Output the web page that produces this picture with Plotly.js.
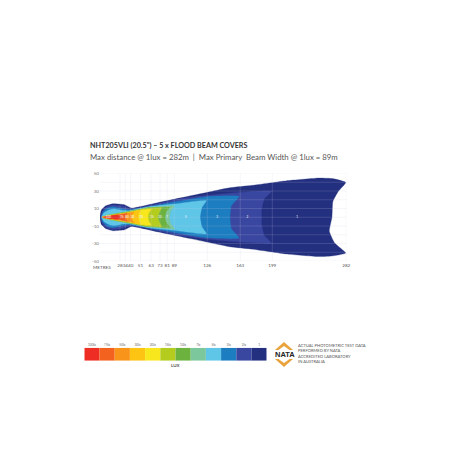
<!DOCTYPE html>
<html><head><meta charset="utf-8">
<script src="https://cdn.plot.ly/plotly-3.0.1.min.js"></script>
<style>html,body{margin:0;padding:0;background:#fff}#c{width:452px;height:452px}</style>
</head><body><div id="c"></div>
<script>
// Isolux contours: metres along the beam, spread on the vertical axis
const lux1X   = [5.6,7,12,20,33,41,70,110,151,177,215,252,268,281.5,273,267,266,263,269,281.5,268,252,215,177,151,110,70,41,33,20,12,7,5.6];
const lux1Y   = [0,8,13,15.4,14.3,10.5,16.6,25,33.7,36.5,41.7,44.8,44,39.8,29.5,18,0,-16,-29.5,-41,-44,-45,-42,-36.5,-33.7,-25,-16.6,-10.5,-14.3,-15.4,-13,-8,0];
const lux2X   = [6.5,8,13,20,32,40,70,95,125,151,198,190,187,187,187,190,198,151,125,95,70,40,32,20,13,8,6.5];
const lux2Y   = [0,7,12,14,12.5,9.5,15.5,21,25,27.5,29.5,21,8,0,-8,-21,-29.5,-27.5,-25,-21,-15.5,-9.5,-12.5,-14,-12,-7,0];
const lux3X   = [7,9,14,20,30,39,70,95,125,161.6,153,151.5,153,161.6,125,95,70,39,30,20,14,9,7];
const lux3Y   = [0,6,10.5,12,10,8.5,14,18.5,23.5,23.8,13,0,-13,-23.8,-23.5,-18.5,-14,-8.5,-10,-12,-10.5,-6,0];
const lux5X   = [7.5,10,16,22,30,38,60,88,125,120,118,120,125,88,60,38,30,22,16,10,7.5];
const lux5Y   = [0,5,8.5,9.5,8,7.5,12,15,19,11,0,-11,-19,-15,-12,-7.5,-8,-9.5,-8.5,-5,0];
const lux7X   = [8,14,24,38,58,75,89,85,83.5,85,89,75,58,38,24,14,8];
const lux7Y   = [0,3,4.5,7,11,12.5,13,7,0,-7,-13.5,-12.5,-11,-7,-4.5,-3,0];
const lux10X  = [8,24,38,58,72,84,80,78.6,80,84,72,58,38,24,8];
const lux10Y  = [0,4,6.5,10.7,11.3,11.6,6,0,-6,-11.6,-11.3,-10.7,-6.5,-4,0];
const lux15X  = [8,24,38,58,70,75,72,71,72,75,70,58,38,24,8];
const lux15Y  = [0,3.6,6,10.3,10.8,11,5,0,-5,-11,-10.8,-10.3,-6,-3.6,0];
const lux20X  = [8,24,38,52,63,60,59.6,60,63,52,38,24,8];
const lux20Y  = [0,3.2,5.5,8.5,9,4,0,-4,-9,-8.5,-5.5,-3.2,0];
const lux30X  = [8,24,36,46,51,49,48.7,49,51,46,36,24,8];
const lux30Y  = [0,2.8,4.8,7,8,4,0,-4,-8,-7,-4.8,-2.8,0];
const lux50X  = [8,20,32,40,44,41.5,41,41.5,44,40,32,20,8];
const lux50Y  = [0,2.2,4,5.5,6,3,0,-3,-6,-5.5,-4,-2.2,0];
const lux75X  = [8,18,26,33,36,33.6,36,33,26,18,8];
const lux75Y  = [0,1.8,3,4,5,0,-5,-4,-3,-1.8,0];
const lux100X = [10,18,24,29,24,18,10];
const lux100Y = [0,1.5,2.2,0,-2.2,-1.5,0];

const zoneColors = ["#232f7f","#3a47a0","#1c7dc0","#5fc6e8","#7cc79b","#6cb23e","#b4cc1e","#f8e71c","#fdc413","#f9941b","#f15a24","#ea2a22"];
const zones = [[lux1X,lux1Y],[lux2X,lux2Y],[lux3X,lux3Y],[lux5X,lux5Y],[lux7X,lux7Y],[lux10X,lux10Y],[lux15X,lux15Y],[lux20X,lux20Y],[lux30X,lux30Y],[lux50X,lux50Y],[lux75X,lux75Y],[lux100X,lux100Y]];

const distanceTicks = [28,34,40,51,63,73,81,89,126,163,199,282];
const spreadTicks = [50,40,30,20,10,0,-10,-20,-30,-40,-50];
const spreadLabels = ["50","","30","","10","","-10","","-30","","-50"];

const zoneLabelX = [15,30,36,42,52,64,73,81,102,137,171,227];
const zoneLabelY = [0,0,0,0,0,0,0,0,0,0,0,0];
const zoneLabels = ["100","75","50","30","20","15","10","7","5","3","2","1"];

const scaleLabels = ["100lx","75lx","50lx","30lx","20lx","15lx","10lx","7lx","5lx","3lx","2lx","1"];
const scaleColors = ["#ee2e24","#f4621f","#f9941b","#fdc413","#f8e71c","#b4cc1e","#6cb23e","#7cc79b","#5fc6e8","#1c7dc0","#3a47a0","#232f7f"];
const scaleHeight = [1,1,1,1,1,1,1,1,1,1,1,1];

const font = "Lato, 'Open Sans', sans-serif";

const traces = zones.map((z,i)=>({x:z[0],y:z[1],mode:"lines",fill:"toself",fillcolor:zoneColors[i],
  line:{color:zoneColors[i],width:0.3,shape:"spline",smoothing:0.4},hoverinfo:"skip",xaxis:"x",yaxis:"y"}));
traces.push({x:zoneLabelX,y:zoneLabelY,text:zoneLabels,mode:"text",textfont:{size:3,color:"#fff"},xaxis:"x",yaxis:"y",hoverinfo:"skip"});
traces.push({x:scaleLabels,y:scaleHeight,type:"bar",marker:{color:scaleColors,line:{width:0}},width:1,
  xaxis:"x2",yaxis:"y2",hoverinfo:"skip"});

const W=452;
const toX=p=>p/W, toY=p=>1-p/W;
const gridColor="rgba(205,205,225,0.3)";
const layout={width:452,height:452,margin:{l:0,r:0,t:0,b:0},paper_bgcolor:"#fff",plot_bgcolor:"#fff",showlegend:false,
  font:{family:font,color:"#555"},
  xaxis:{domain:[toX(100),toX(346.5)],range:[5.6,282.3],tickvals:distanceTicks,ticktext:distanceTicks.map(String),ticks:"",tickangle:0,
    tickfont:{size:4.6,color:"#555"},showgrid:false,zeroline:false,showline:false,anchor:"y"},
  yaxis:{domain:[toY(261),toY(173.5)],range:[-50,50],tickvals:spreadTicks,ticktext:spreadLabels,ticks:"",
    tickfont:{size:4.6,color:"#777"},showgrid:false,zeroline:false,showline:false,anchor:"x"},
  xaxis2:{domain:[toX(84.3),toX(266.7)],type:"category",categoryorder:"array",categoryarray:scaleLabels,side:"top",anchor:"y2",tickangle:0,
    tickfont:{size:3.2,color:"#666"},ticks:"",showgrid:false,zeroline:false,showline:false},
  yaxis2:{domain:[toY(360.7),toY(347.7)],range:[0,1],visible:false,anchor:"x2"},
  shapes:[
    ...spreadTicks.map(v=>({type:"line",xref:"x domain",yref:"y",x0:0,x1:1,y0:v,y1:v,line:{color:gridColor,width:0.6},layer:"above"})),
    ...distanceTicks.map(v=>({type:"line",xref:"x",yref:"y domain",x0:v,x1:v,y0:0,y1:1,line:{color:gridColor,width:0.6},layer:"above"})),
    {type:"path",xref:"paper",yref:"paper",path:`M ${toX(275)} ${toY(350)} L ${toX(284)} ${toY(342)} L ${toX(293)} ${toY(350)} L ${toX(289.5)} ${toY(350)} L ${toX(284)} ${toY(346)} L ${toX(278.5)} ${toY(350)} Z`,fillcolor:"#e8a33d",line:{width:0}},
    {type:"path",xref:"paper",yref:"paper",path:`M ${toX(275)} ${toY(359)} L ${toX(284)} ${toY(367)} L ${toX(293)} ${toY(359)} L ${toX(289.5)} ${toY(359)} L ${toX(284)} ${toY(363)} L ${toX(278.5)} ${toY(359)} Z`,fillcolor:"#e8a33d",line:{width:0}}
  ],
  annotations:[
    {text:"<b>NHT205VLI (20.5\") – 5 x FLOOD BEAM COVERS</b>",xref:"paper",yref:"paper",x:toX(87.5),y:toY(145),xanchor:"left",yanchor:"middle",showarrow:false,font:{size:7.2,color:"#333"}},
    {text:"Max distance @ 1lux = 282m  |  Max Primary  Beam Width @ 1lux = 89m",xref:"paper",yref:"paper",x:toX(87.5),y:toY(157),xanchor:"left",yanchor:"middle",showarrow:false,font:{size:7.8,color:"#555"}},
    {text:"METRES",xref:"paper",yref:"paper",x:toX(91),y:toY(266.5),xanchor:"left",yanchor:"middle",showarrow:false,font:{size:4.6,color:"#555"}},
    {text:"<b>LUX</b>",xref:"paper",yref:"paper",x:toX(175.5),y:toY(365),xanchor:"center",yanchor:"middle",showarrow:false,font:{size:4.5,color:"#555"}},
    {text:"<b>NATA</b>",xref:"paper",yref:"paper",x:toX(284.5),y:toY(354.5),xanchor:"center",yanchor:"middle",showarrow:false,font:{size:7.5,color:"#222",family:"'Liberation Sans'"}},
    {text:"ACTUAL PHOTOMETRIC TEST DATA<br>PERFORMED BY NATA<br>ACCREDITED LABORATORY<br>IN AUSTRALIA",xref:"paper",yref:"paper",x:toX(296),y:toY(353.5),xanchor:"left",yanchor:"middle",align:"left",showarrow:false,font:{size:4.1,color:"#555"}}
  ]
};
Plotly.newPlot("c",traces,layout,{displayModeBar:false,staticPlot:true});
</script></body></html>
